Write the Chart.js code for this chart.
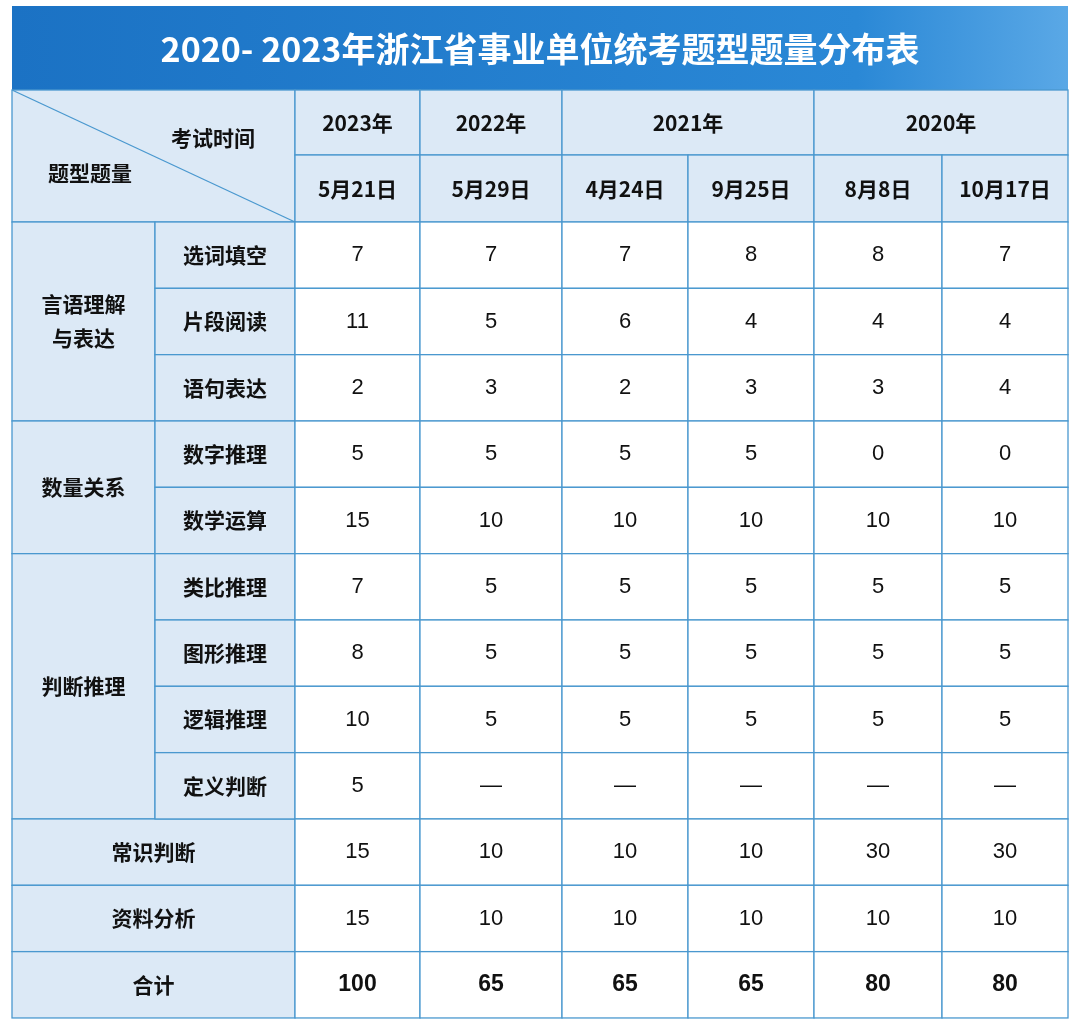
<!DOCTYPE html><html><head><meta charset="utf-8">
<script src="https://cdn.jsdelivr.net/npm/chart.js@4"></script>
<style>body{margin:0;background:#fff}</style></head><body>
<canvas id="c" width="1080" height="1030"></canvas>
<script>
const title='2020- 2023年浙江省事业单位统考题型题量分布表';
const years=['2023年','2022年','2021年','2020年'];
const yearSpans=[1,1,2,2];
const dates=['5月21日','5月29日','4月24日','9月25日','8月8日','10月17日'];
const groups=['言语理解\n与表达','数量关系','判断推理','常识判断','资料分析','合计'];
const groupSpans=[3,2,4,1,1,1];
const subs=['选词填空','片段阅读','语句表达','数字推理','数学运算','类比推理','图形推理','逻辑推理','定义判断',null,null,null];
const v0521=[7,11,2,5,15,7,8,10,5,15,15,100];
const v0529=[7,5,3,5,10,5,5,5,null,10,10,65];
const v0424=[7,6,2,5,10,5,5,5,null,10,10,65];
const v0925=[8,4,3,5,10,5,5,5,null,10,10,65];
const v0808=[8,4,3,0,10,5,5,5,null,30,10,80];
const v1017=[7,4,4,0,10,5,5,5,null,30,10,80];
const series=[v0521,v0529,v0424,v0925,v0808,v1017];

const colX=[12,155,295,420,562,688,814,942,1068];
const rowY=[90,155,222];for(let i=1;i<=12;i++)rowY.push(222+i*66.33);
const HB='#dce9f6',BC='#4a98cf';
const plugin={id:'tbl',afterDraw(ch){
 const c=ch.ctx,X=v=>ch.scales.x.getPixelForValue(v),Y=v=>ch.scales.y.getPixelForValue(v);
 const rect=(x0,y0,x1,y1,f)=>{c.fillStyle=f;c.fillRect(X(x0),Y(y0),X(x1)-X(x0),Y(y1)-Y(y0));c.strokeStyle=BC;c.lineWidth=1.3;c.strokeRect(X(x0),Y(y0),X(x1)-X(x0),Y(y1)-Y(y0));};
 const txt=(s,x,y,font,col)=>{c.font=font;c.fillStyle=col||'#111';c.textAlign='center';c.textBaseline='middle';const ls=String(s).split('\n');ls.forEach((l,i)=>c.fillText(l,X(x),Y(y)+(i-(ls.length-1)/2)*34));};
 c.save();
 const g=c.createLinearGradient(X(12),0,X(1068),0);g.addColorStop(0,'#1b72c4');g.addColorStop(0.8,'#2a88d6');g.addColorStop(1,'#5aa8e6');
 c.fillStyle=g;c.fillRect(X(12),Y(6),X(1068)-X(12),Y(90)-Y(6));
 txt(title,540,49,'bold 34px "Noto Sans CJK SC"','#fff');
 const B='bold 21px "Noto Sans CJK SC"',N='22px "Liberation Sans","Noto Sans CJK SC"',NB='bold 23px "Liberation Sans"';
 rect(12,90,295,222,HB);
 c.strokeStyle=BC;c.beginPath();c.moveTo(X(12),Y(90));c.lineTo(X(295),Y(222));c.stroke();
 txt('考试时间',213,138,B);txt('题型题量',90,173,B);
 let ci=2;years.forEach((yv,i)=>{const x0=colX[ci],x1=colX[ci+yearSpans[i]];rect(x0,90,x1,155,HB);txt(yv,(x0+x1)/2,123,B);ci+=yearSpans[i];});
 dates.forEach((d,i)=>{rect(colX[i+2],155,colX[i+3],222,HB);txt(d,(colX[i+2]+colX[i+3])/2,189,B);});
 let ri=0;groups.forEach((gn,i)=>{const y0=rowY[ri+2],y1=rowY[ri+2+groupSpans[i]];const wide=subs[ri]===null;const x1=wide?colX[2]:colX[1];rect(colX[0],y0,x1,y1,HB);txt(gn,(colX[0]+x1)/2,(y0+y1)/2,B);ri+=groupSpans[i];});
 subs.forEach((s,r)=>{if(s===null)return;rect(colX[1],rowY[r+2],colX[2],rowY[r+3],HB);txt(s,(colX[1]+colX[2])/2,(rowY[r+2]+rowY[r+3])/2,B);});
 series.forEach((arr,k)=>arr.forEach((v,r)=>{const x0=colX[k+2],x1=colX[k+3],y0=rowY[r+2],y1=rowY[r+3];rect(x0,y0,x1,y1,'#fff');txt(v===null?'—':v,(x0+x1)/2,(y0+y1)/2,r===11?NB:N);}));
 c.restore();
}};
new Chart(document.getElementById('c'),{type:'scatter',data:{datasets:[{data:[]}]},
 options:{responsive:false,animation:false,layout:{padding:0},plugins:{legend:{display:false},tooltip:{enabled:false}},
 scales:{x:{type:'linear',min:0,max:1080,display:false},y:{type:'linear',min:0,max:1030,reverse:true,display:false}}},
 plugins:[plugin]});
</script></body></html>
